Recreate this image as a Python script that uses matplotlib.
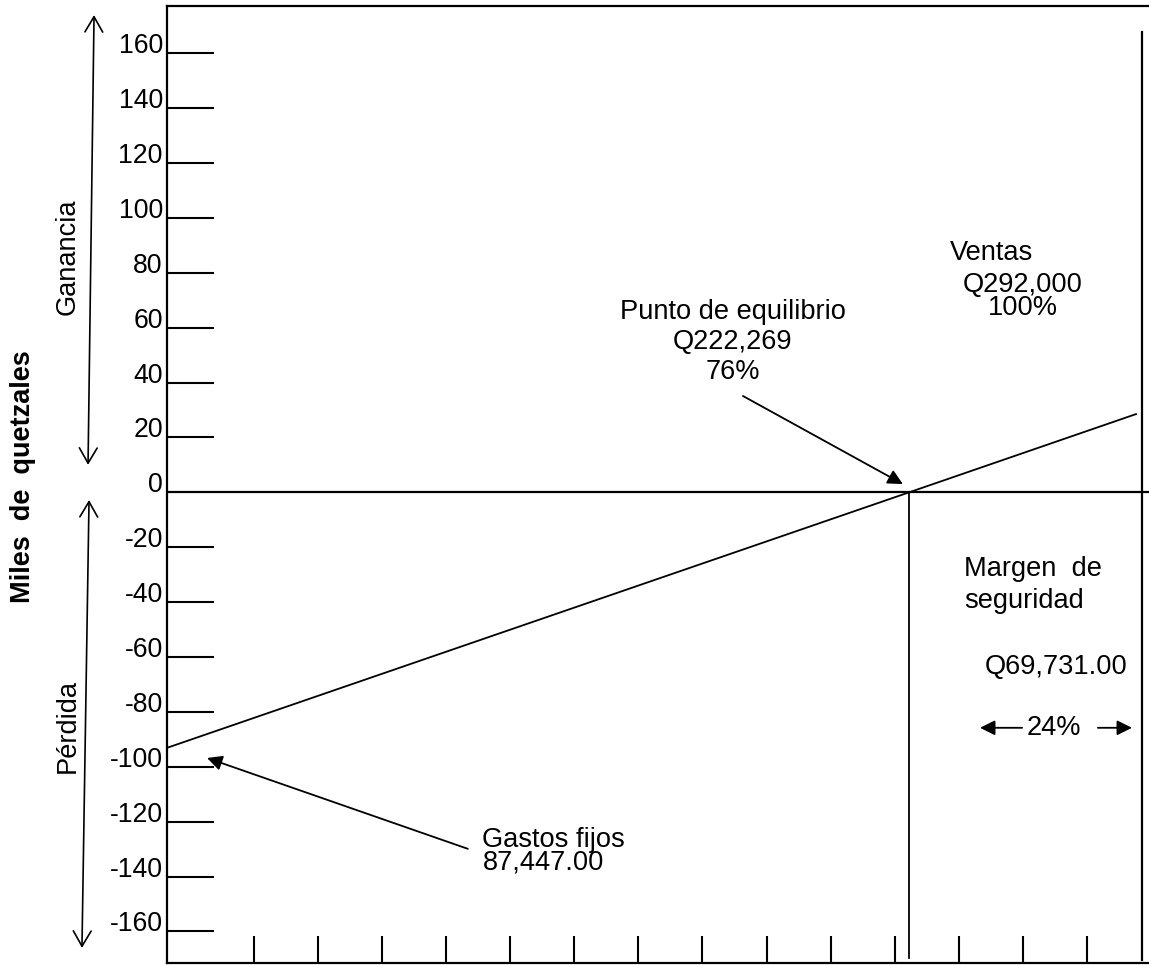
import numpy as np
import matplotlib
matplotlib.use("Agg")
import matplotlib.pyplot as plt

plt.rcParams["font.family"] = ["Liberation Sans", "DejaVu Sans"]

# values in thousands of quetzales
y_ticks = [160, 140, 120, 100, 80, 60, 40, 20, 0, -20, -40, -60, -80, -100, -120, -140, -160]
x_ticks = [26.1, 45.2, 64.4, 83.5, 102.7, 121.8, 141.1, 160.2, 179.7, 198.9, 218.0, 237.2, 256.4, 275.5]

ventas = 292.0
equilibrio = 222.269
# result line (ganancia / perdida)
line_x = [0, equilibrio, 290.2]
line_y = [-93.1, 0, 28.5]

FS = 19.6

fig = plt.figure(figsize=(11.49, 9.65), dpi=100)
ax = fig.add_axes([167 / 1149, 2 / 965, 1 - 167 / 1149, 957 / 965])
ax.set_xlim(0, 294.1)
ax.set_ylim(-171.5, 177.2)

for s in ["left", "bottom", "top"]:
    ax.spines[s].set_linewidth(1.6)
ax.spines["right"].set_visible(False)

# ticks
ax.set_yticks([t for t in y_ticks if t != 0])
ax.set_yticklabels([str(t) for t in y_ticks if t != 0], fontsize=19.2)
ax.tick_params(axis="y", direction="in", length=34, width=1.5, pad=3)
for lbl in ax.get_yticklabels():
    lbl.set_verticalalignment("baseline")
ax.set_xticks(x_ticks)
ax.set_xticklabels([])
ax.tick_params(axis="x", direction="in", length=19.5, width=1.5)
# "0" label sits on the zero line
ax.text(-0.004, 0, "0", transform=ax.get_yaxis_transform(), ha="right",
        va="baseline", fontsize=19.2)

# lines
ax.axhline(0, color="black", lw=1.6)
ax.plot(line_x, line_y, color="black", lw=1.3)
ax.plot([equilibrio, equilibrio], [0, -169.6], color="black", lw=1.3)
ax.plot([ventas, ventas], [167.8, -170.3], color="black", lw=1.6)

# left side labels
yt = ax.get_yaxis_transform()
ax.text(-0.1466, 5.6, "Miles  de  quetzales", transform=yt, rotation=90,
        ha="center", va="center", fontsize=19.5, fontweight="bold")
ax.text(-0.1008, 85.8, "Ganancia", transform=yt, rotation=90,
        ha="center", va="center", fontsize=FS)
ax.text(-0.1008, -85.0, "Pérdida", transform=yt, rotation=90,
        ha="center", va="center", fontsize=FS)
open_arrow = dict(arrowstyle="<->,head_length=0.55,head_width=0.32",
                  mutation_scale=20, color="black", lw=1.2, shrinkA=0, shrinkB=0)
ax.annotate("", xy=(-0.0743, 173.9), xytext=(-0.0804, 10.0), xycoords=yt,
            textcoords=yt, arrowprops=open_arrow, annotation_clip=False)
ax.annotate("", xy=(-0.0794, -2.8), xytext=(-0.0866, -166.0), xycoords=yt,
            textcoords=yt, arrowprops=open_arrow, annotation_clip=False)

solid_arrow = dict(arrowstyle="-|>,head_length=0.6,head_width=0.3",
                   mutation_scale=15, color="black", lw=1.3, shrinkA=0, shrinkB=0)

# Punto de equilibrio
ax.text(169.5, 54.8, "Punto de equilibrio\nQ222,269\n76%", ha="center",
        va="center", fontsize=FS, linespacing=1.18)
ax.annotate("", xy=(220.4, 3.0), xytext=(172.5, 35.1), arrowprops=solid_arrow)

# Ventas
ax.text(234.5, 87.2, "Ventas", ha="left", va="center", fontsize=FS)
ax.text(256.4, 75.6, "Q292,000", ha="center", va="center", fontsize=FS)
ax.text(256.4, 67.2, "100%", ha="center", va="center", fontsize=FS)

# Margen de seguridad
ax.text(238.7, -33.7, "Margen  de\nseguridad", ha="left", va="center",
        fontsize=FS, linespacing=1.33)
ax.text(245.0, -63.6, "Q69,731.00", ha="left", va="center", fontsize=FS)
ax.text(265.6, -85.8, "24%", ha="center", va="center", fontsize=FS)
ax.annotate("", xy=(243.5, -85.8), xytext=(256.1, -85.8), arrowprops=solid_arrow)
ax.annotate("", xy=(289.0, -85.8), xytext=(278.8, -85.8), arrowprops=solid_arrow)

# Gastos fijos
ax.text(94.3, -126.6, "Gastos fijos", ha="left", va="center", fontsize=FS)
ax.text(94.6, -135.0, "87,447.00", ha="left", va="center", fontsize=FS)
ax.annotate("", xy=(12.0, -96.8), xytext=(90.1, -129.9), arrowprops=solid_arrow)

fig.savefig("out.png", dpi=100)
